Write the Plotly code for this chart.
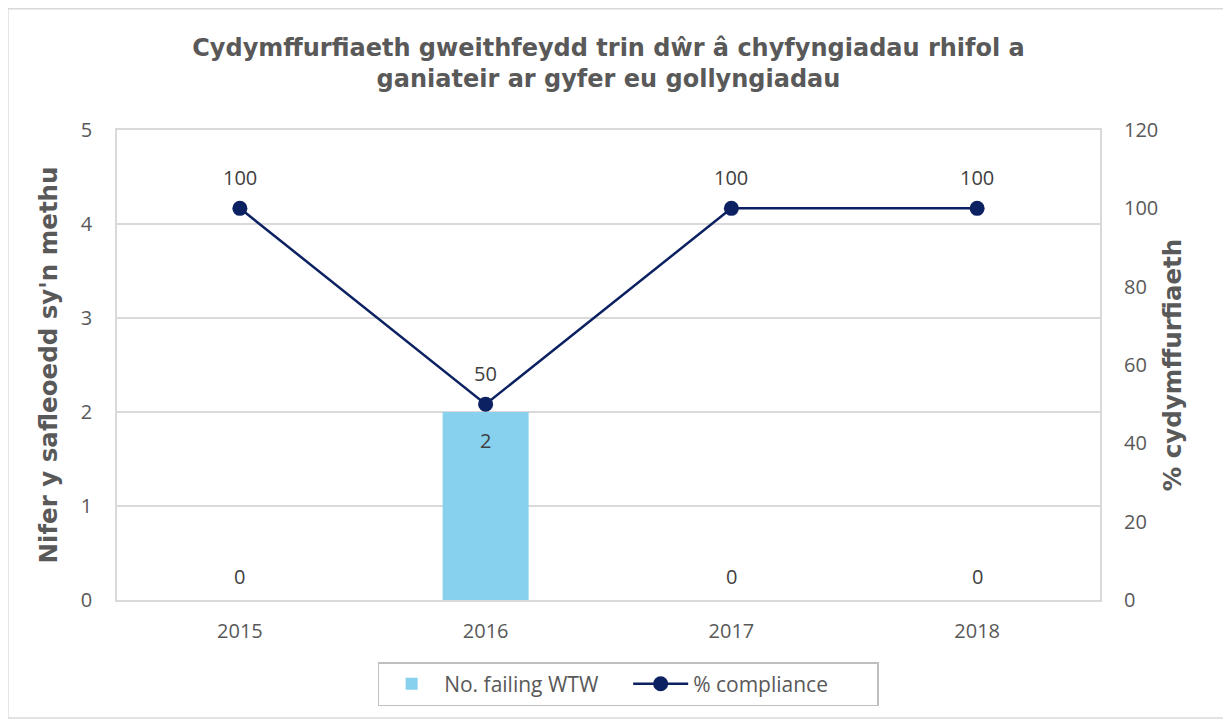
import plotly.graph_objects as go

years = ["2015", "2016", "2017", "2018"]
failing = [0, 2, 0, 0]
compliance = [100, 50, 100, 100]

title_text = "<b>Cydymffurfiaeth gweithfeydd trin dŵr â chyfyngiadau rhifol a<br>ganiateir ar gyfer eu gollyngiadau</b>"
left_title = "Nifer y safleoedd sy'n methu"
right_title = "% cydymffurfiaeth"

GREY = "#595959"
BOLDFONT = "DejaVu Sans, Liberation Sans, Arial, sans-serif"
TICKFONT = dict(family="Open Sans, Noto Sans, sans-serif", size=20, color=GREY)
LABELFONT = dict(family="Open Sans, Noto Sans, sans-serif", size=20, color="#404040")

fig = go.Figure()
fig.add_trace(go.Bar(
    x=years, y=failing, name="No. failing WTW",
    marker=dict(color="#87D1EE", line=dict(width=0)),
    yaxis="y",
))
fig.add_trace(go.Scatter(
    x=years, y=compliance, name="% compliance", mode="lines+markers",
    line=dict(color="#0B2161", width=2.5),
    marker=dict(color="#0B2161", size=15),
    yaxis="y2",
))

annotations = []
for i, v in enumerate(failing):
    annotations.append(dict(
        x=i, y=v, xref="x", yref="y", text=str(v), showarrow=False,
        yshift=(24 if v == 0 else -28),
        font=LABELFONT,
    ))
for i, v in enumerate(compliance):
    annotations.append(dict(
        x=i, y=v, xref="x", yref="y2", text=str(v), showarrow=False,
        yshift=31, font=LABELFONT,
    ))

fig.update_layout(
    width=1231, height=720,
    margin=dict(l=109, r=139, t=122, b=128),
    paper_bgcolor="white", plot_bgcolor="white",
    title=dict(text=title_text, x=0.5, xanchor="center", xref="paper", y=0.933, yanchor="top",
               font=dict(family=BOLDFONT, size=24, color=GREY)),
    bargap=0.65,
    xaxis=dict(type="category", categoryorder="array", categoryarray=years,
               tickfont=TICKFONT, showline=True, linecolor="#d9d9d9",
               linewidth=1.5, mirror=True, ticks="", showgrid=False, ticklabelstandoff=12),
    yaxis=dict(range=[0, 5], dtick=1, tickfont=TICKFONT, showgrid=True, gridcolor="#d9d9d9",
               gridwidth=1.5, showline=True, linecolor="#d9d9d9", linewidth=1.5, mirror=True,
               zeroline=False, ticklabelstandoff=19,
               title=dict(text="<b>" + left_title + "</b>", standoff=16,
                          font=dict(family=BOLDFONT, size=24.5, color=GREY))),
    yaxis2=dict(range=[0, 120], dtick=20, overlaying="y", side="right", tickfont=TICKFONT,
                showgrid=False, zeroline=False, showline=False, ticklabelstandoff=23,
                title=dict(text="<b>" + right_title + "</b>", standoff=6,
                           font=dict(family=BOLDFONT, size=24.5, color=GREY))),
    legend=dict(orientation="h", x=0.52, xanchor="center", y=-0.132, yanchor="top",
                bordercolor="#bfbfbf", borderwidth=1.5,
                font=dict(family="Open Sans, Noto Sans, sans-serif", size=21, color=GREY),
                itemwidth=55, entrywidth=179, tracegroupgap=0),
    annotations=annotations,
    showlegend=True,
    shapes=[dict(type="rect", xref="paper", yref="paper", x0=-0.111, x1=1.126, y0=-0.251, y1=1.258,
                 line=dict(color="#d9d9d9", width=1.5), fillcolor="rgba(0,0,0,0)", layer="below")],
)

fig.write_html("out.html")
